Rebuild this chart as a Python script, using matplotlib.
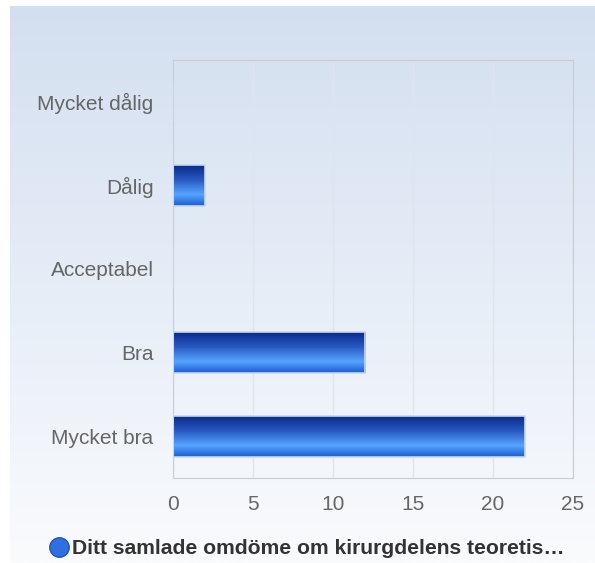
import matplotlib
matplotlib.use("Agg")
import matplotlib.pyplot as plt
import numpy as np
from matplotlib.colors import LinearSegmentedColormap
from matplotlib.lines import Line2D

plt.rcParams["font.family"] = ["Liberation Sans", "DejaVu Sans"]

categories = ["Mycket dålig", "Dålig", "Acceptabel", "Bra", "Mycket bra"]
counts = [0, 2, 0, 12, 22]
series_name = "Ditt samlade omdöme om kirurgdelens teoretis…"
x_ticks = [0, 5, 10, 15, 20, 25]

W, H = 595, 563
fig = plt.figure(figsize=(W / 100, H / 100), dpi=100)

# page background: light blue at top fading to near white
bg = fig.add_axes([10 / W, 0, 1 - 10 / W, 1 - 6 / H], zorder=-10)
grad = np.linspace(0, 1, 256).reshape(-1, 1)
bg_cmap = LinearSegmentedColormap.from_list("bg", ["#d3dff0", "#e6edf7", "#fafbfd"])
bg.imshow(grad, aspect="auto", cmap=bg_cmap, extent=[0, 1, 0, 1])
bg.axis("off")

ax = fig.add_axes([173 / W, 1 - 478 / H, 400 / W, 418 / H])
ax.patch.set_alpha(0)

ypos = np.arange(len(categories))[::-1]
bars = ax.barh(ypos, counts, height=0.49, color="none", edgecolor="#c8d6f0",
               linewidth=1.2, zorder=3)

bar_cmap = LinearSegmentedColormap.from_list(
    "bar", [(0.0, "#0a2a8a"), (0.35, "#2758c0"), (0.72, "#55a5ff"), (1.0, "#1a5cd0")])
bar_grad = np.linspace(0, 1, 128).reshape(-1, 1)
for b in bars:
    if b.get_width() <= 0:
        continue
    x0, y0, w, h = b.get_x(), b.get_y(), b.get_width(), b.get_height()
    ax.imshow(bar_grad, aspect="auto", cmap=bar_cmap,
              extent=[x0, x0 + w, y0, y0 + h], origin="upper", zorder=2)

ax.set_xlim(0, 25)
ax.set_ylim(-0.5, len(categories) - 0.5)
ax.set_xticks(x_ticks)
ax.set_yticks(ypos)
ax.set_yticklabels(categories)
ax.tick_params(axis="both", length=0, labelsize=15, labelcolor="#666666")
ax.tick_params(axis="x", pad=12)
ax.tick_params(axis="y", pad=14)
ax.grid(axis="x", color="#e2e4e8", linewidth=1, zorder=0)
ax.set_axisbelow(True)
for side in ["top", "right", "bottom"]:
    ax.spines[side].set_color("#cccccc")
ax.spines["left"].set_color("#c0cfe8")

handle = Line2D([], [], marker="o", linestyle="none", markersize=14,
                markerfacecolor="#2f6fe0", markeredgecolor="#1f55c0")
fig.legend([handle], [series_name], loc="center", bbox_to_anchor=(0.515, 1 - 549 / H),
           frameon=False, handletextpad=0.1, handlelength=1.0,
           prop={"size": 15.2, "weight": "bold"}, labelcolor="#333333")

fig.savefig("out.png", dpi=100)
